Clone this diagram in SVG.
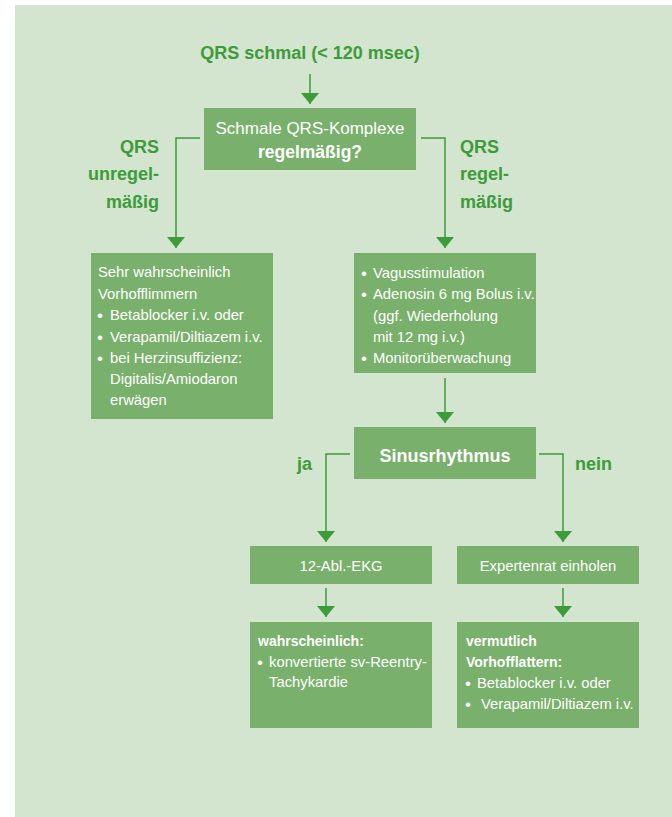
<svg xmlns="http://www.w3.org/2000/svg" width="672" height="817" viewBox="0 0 672 817">
<style>
.bg{fill:#d3e4cf}
.box{fill:#79b06b}
.w{fill:#ffffff;font-family:"Liberation Sans",Arial,sans-serif;font-size:14.8px}
.b{fill:#ffffff;font-family:"Liberation Sans",Arial,sans-serif;font-size:17px}
.wb{fill:#ffffff;font-family:"Liberation Sans",Arial,sans-serif;font-size:14px;font-weight:bold}
.g{fill:#3d9c3a;font-family:"Liberation Sans",Arial,sans-serif;font-size:18px;font-weight:bold}
.con{fill:none;stroke:#3d9c3a;stroke-width:1.5;marker-end:url(#ah)}
</style>
<defs>
<marker id="ah" viewBox="0 0 11 18" refX="11" refY="9" markerWidth="11" markerHeight="18" markerUnits="userSpaceOnUse" orient="auto">
<path d="M0,0 L11,9 L0,18 z" fill="#3d9c3a"/>
</marker>
</defs>
<rect class="bg" x="15" y="5" width="657" height="812"/>

<g id="connectors">
<path class="con" d="M310,74 V104"/>
<path class="con" d="M200,138 H176 V248"/>
<path class="con" d="M421,138 H445 V248"/>
<path class="con" d="M445,378 V423"/>
<path class="con" d="M350,454 H326 V542"/>
<path class="con" d="M539,454 H563 V542"/>
<path class="con" d="M326,588 V617"/>
<path class="con" d="M563,588 V617"/>
</g>

<g id="title">
<text class="g" x="310" y="59" text-anchor="middle">QRS schmal (&lt; 120 msec)</text>
</g>

<g id="n-question">
<rect class="box" x="204" y="108" width="212" height="62"/>
<text class="w" x="310" y="134" text-anchor="middle" style="font-size:17px">Schmale QRS-Komplexe</text>
<text class="wb" x="310" y="158" text-anchor="middle" style="font-size:17.5px">regelmäßig?</text>
</g>

<g id="lbl-unregel">
<text class="g" x="159" y="153" text-anchor="end">QRS</text>
<text class="g" x="159" y="180" text-anchor="end">unregel-</text>
<text class="g" x="159" y="208" text-anchor="end">mäßig</text>
</g>

<g id="lbl-regel">
<text class="g" x="460" y="153">QRS</text>
<text class="g" x="460" y="180">regel-</text>
<text class="g" x="460" y="208">mäßig</text>
</g>

<g id="n-vorhofflimmern">
<rect class="box" x="91" y="253" width="182" height="166"/>
<text class="w" x="98" y="277">Sehr wahrscheinlich</text>
<text class="w" x="98" y="299">Vorhofflimmern</text>
<text class="b" x="97" y="321">•</text>
<text class="w" x="110" y="320">Betablocker i.v. oder</text>
<text class="b" x="97" y="343">•</text>
<text class="w" x="110" y="342">Verapamil/Diltiazem i.v.</text>
<text class="b" x="97" y="364">•</text>
<text class="w" x="110" y="363">bei Herzinsuffizienz:</text>
<text class="w" x="110" y="384">Digitalis/Amiodaron</text>
<text class="w" x="110" y="405">erwägen</text>
</g>

<g id="n-vagus">
<rect class="box" x="354" y="253" width="182" height="120"/>
<text class="b" x="361" y="279">•</text>
<text class="w" x="373" y="278">Vagusstimulation</text>
<text class="b" x="361" y="300">•</text>
<text class="w" x="373" y="299">Adenosin 6 mg Bolus i.v.</text>
<text class="w" x="373" y="321">(ggf. Wiederholung</text>
<text class="w" x="373" y="342">mit 12 mg i.v.)</text>
<text class="b" x="361" y="364">•</text>
<text class="w" x="373" y="363">Monitorüberwachung</text>
</g>

<g id="n-sinus">
<rect class="box" x="354" y="427" width="182" height="52"/>
<text class="wb" x="445" y="462" text-anchor="middle" style="font-size:18px">Sinusrhythmus</text>
</g>

<g id="lbl-ja">
<text class="g" x="297" y="470">ja</text>
</g>
<g id="lbl-nein">
<text class="g" x="575" y="470">nein</text>
</g>

<g id="n-ekg">
<rect class="box" x="250" y="546" width="182" height="38"/>
<text class="w" x="341" y="571" text-anchor="middle">12-Abl.-EKG</text>
</g>

<g id="n-experten">
<rect class="box" x="457" y="546" width="182" height="38"/>
<text class="w" x="548" y="571" text-anchor="middle">Expertenrat einholen</text>
</g>

<g id="n-reentry">
<rect class="box" x="250" y="622" width="182" height="106"/>
<text class="wb" x="258" y="646">wahrscheinlich:</text>
<text class="b" x="257" y="668">•</text>
<text class="w" x="269" y="667">konvertierte sv-Reentry-</text>
<text class="w" x="269" y="687">Tachykardie</text>
</g>

<g id="n-flattern">
<rect class="box" x="457" y="622" width="182" height="106"/>
<text class="wb" x="466" y="646">vermutlich</text>
<text class="wb" x="466" y="667">Vorhofflattern:</text>
<text class="b" x="465" y="689">•</text>
<text class="w" x="477" y="688">Betablocker i.v. oder</text>
<text class="b" x="465" y="710">•</text>
<text class="w" x="481" y="709">Verapamil/Diltiazem i.v.</text>
</g>
</svg>
